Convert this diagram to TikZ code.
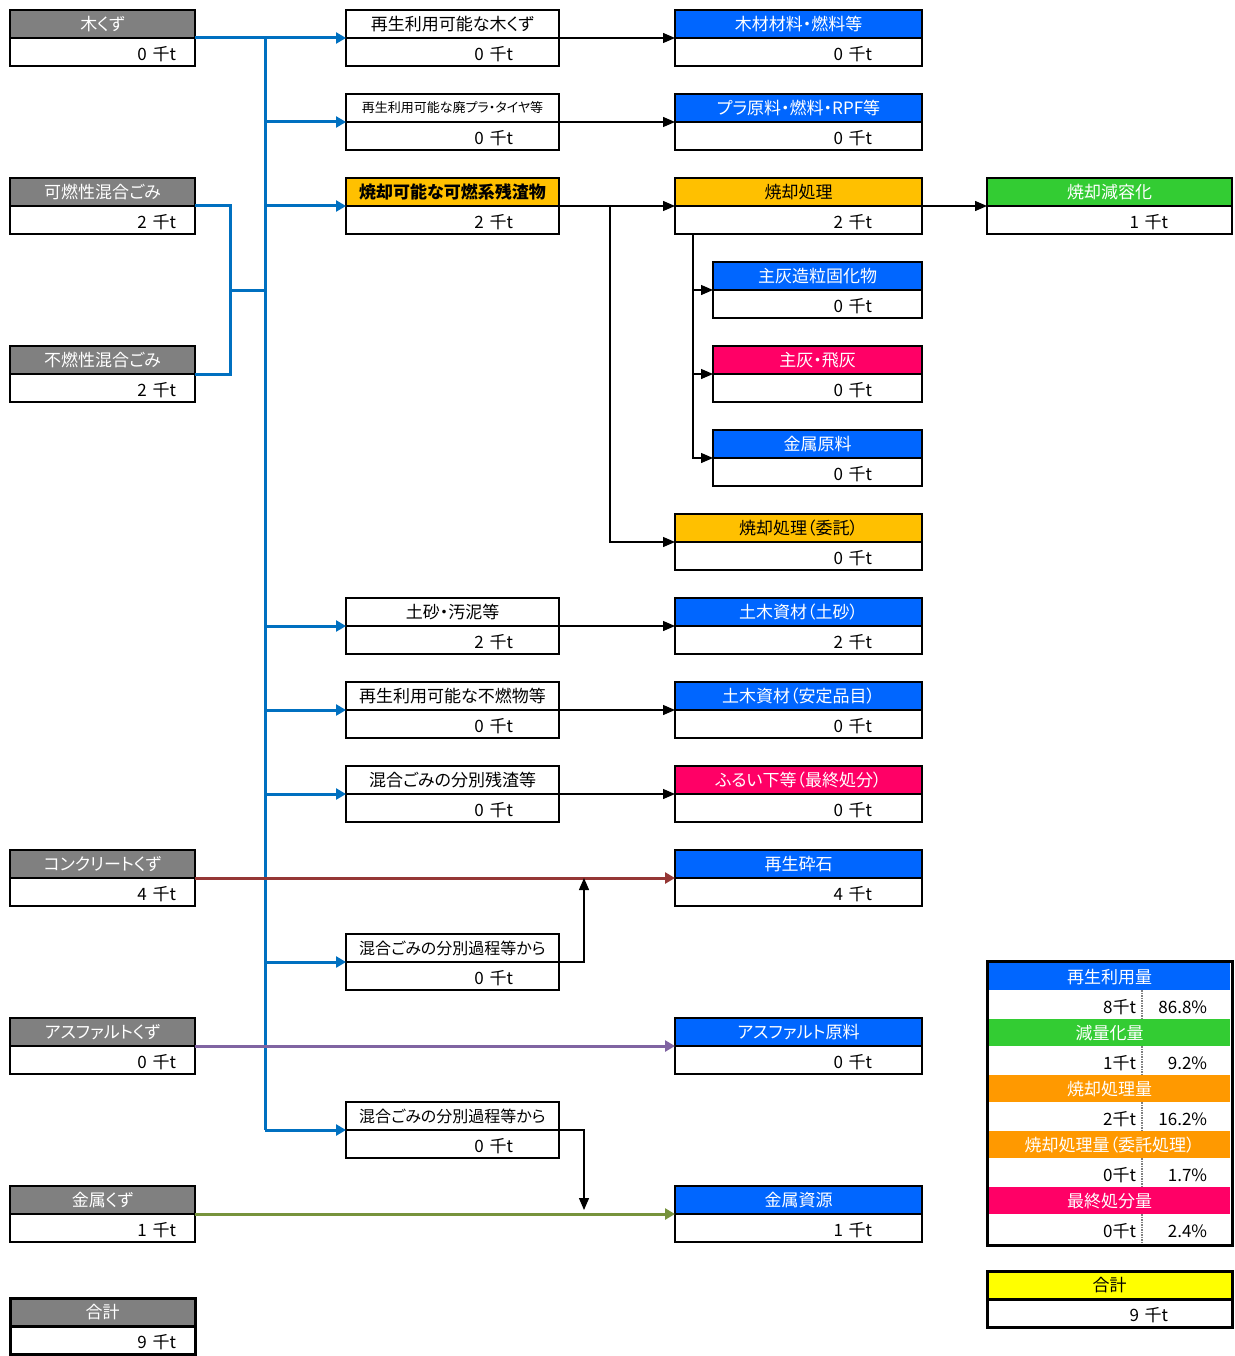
\documentclass[tikz,border=0pt]{standalone}
\usepackage{fontspec}
\setmainfont{Noto Sans CJK JP}[RawFeature=+palt]
\usetikzlibrary{arrows.meta,positioning,fit}
\definecolor{hdgray}{HTML}{808080}
\definecolor{hdblue}{HTML}{0066FF}
\definecolor{hdorange}{HTML}{FFC000}
\definecolor{hdgreen}{HTML}{33CC33}
\definecolor{hdpink}{HTML}{FF0066}
\definecolor{sumorange}{HTML}{FF9900}
\definecolor{sumyellow}{HTML}{FFFF00}
\definecolor{flowblue}{HTML}{0070C0}
\definecolor{flowred}{HTML}{953735}
\definecolor{flowpurple}{HTML}{8064A2}
\definecolor{flowgreen}{HTML}{77933C}

\begin{document}
\begin{tikzpicture}[x=1pt,y=-1pt,
  box/.style={draw,line width=2.5pt,inner sep=0pt,outer sep=0pt,minimum height=28pt,font=\fontsize{17pt}{20pt}\selectfont},
  hd/.style={box,anchor=north west,minimum width=#1},
  srcbox/.style={hd=185pt,fill=hdgray,text=white},
  midbox/.style={hd=213pt,fill=white},
  dstbox/.style={hd=247pt,text=white},
  subbox/.style={hd=209pt,text=white},
  farbox/.style={hd=245pt,text=white},
  val/.style={box,align=right,text height=17pt,text depth=0pt,below=0pt of #1},
  vsrc/.style={val=#1,text width=147pt,inner xsep=19pt},
  vmid/.style={val=#1,text width=121pt,inner xsep=46pt},
  vdst/.style={val=#1,text width=147pt,inner xsep=50pt},
  vsub/.style={val=#1,text width=109pt,inner xsep=50pt},
  vfar/.style={val=#1,text width=117pt,inner xsep=64pt},
  sumhd/.style={anchor=north west,inner sep=0pt,minimum width=241pt,minimum height=27pt,text=white,font=\fontsize{17pt}{20pt}\selectfont},
  sumamt/.style={anchor=north west,inner sep=0pt,inner xsep=6pt,text width=140.7pt,align=right,minimum height=29pt,text height=17pt,text depth=0pt,font=\fontsize{17pt}{20pt}\selectfont},
  sumpct/.style={sumamt,inner xsep=2pt,text width=84.3pt,execute at end node={\hspace*{21.5pt}}},
  sumdiv/.style={gray,densely dotted,line width=1.5pt},
  feed/.style={flowblue,line width=3pt},
  feedarr/.style={feed,-{Triangle[length=10pt,width=11pt]}},
  arr/.style={line width=1.3pt,-{Triangle[length=12pt,width=10pt]}},
  flow/.style={line width=3pt,-{Triangle[length=10pt,width=11pt]}}
]
\useasboundingbox (0,0) rectangle (1234,1356);

% sources
\node[srcbox] (mokuzu) at (10,10) {木くず};
\node[vsrc=mokuzu] (mokuzuv) {0 千t};
\node[srcbox] (kanen) at (10,178) {可燃性混合ごみ};
\node[vsrc=kanen] (kanenv) {2 千t};
\node[srcbox] (funen) at (10,346) {不燃性混合ごみ};
\node[vsrc=funen] (funenv) {2 千t};
\node[srcbox] (conc) at (10,850) {コンクリートくず};
\node[vsrc=conc] (concv) {4 千t};
\node[srcbox] (asph) at (10,1018) {アスファルトくず};
\node[vsrc=asph] (asphv) {0 千t};
\node[srcbox] (metal) at (10,1186) {金属くず};
\node[vsrc=metal] (metalv) {1 千t};
\node[srcbox,line width=3pt] (srctotal) at (10,1298) {合計};
\node[vsrc=srctotal,line width=3pt] (srctotalv) {9 千t};

% sorting
\node[midbox] (m1) at (346,10) {再生利用可能な木くず};
\node[vmid=m1] (m1v) {0 千t};
\node[midbox,font=\fontsize{13pt}{15pt}\selectfont] (m2) at (346,94) {再生利用可能な廃プラ・タイヤ等};
\node[vmid=m2] (m2v) {0 千t};
\node[midbox,fill=hdorange,font=\fontsize{17pt}{20pt}\selectfont\bfseries] (m3) at (346,178) {焼却可能な可燃系残渣物};
\node[vmid=m3] (m3v) {2 千t};
\node[midbox] (m4) at (346,598) {土砂・汚泥等};
\node[vmid=m4] (m4v) {2 千t};
\node[midbox] (m5) at (346,682) {再生利用可能な不燃物等};
\node[vmid=m5] (m5v) {0 千t};
\node[midbox] (m6) at (346,766) {混合ごみの分別残渣等};
\node[vmid=m6] (m6v) {0 千t};
\node[midbox,font=\fontsize{16pt}{19pt}\selectfont] (m7) at (346,934) {混合ごみの分別過程等から};
\node[vmid=m7] (m7v) {0 千t};
\node[midbox,font=\fontsize{16pt}{19pt}\selectfont] (m8) at (346,1102) {混合ごみの分別過程等から};
\node[vmid=m8] (m8v) {0 千t};

% destinations
\node[dstbox,fill=hdblue] (r1) at (675,10) {木材材料・燃料等};
\node[vdst=r1] (r1v) {0 千t};
\node[dstbox,fill=hdblue] (r2) at (675,94) {プラ原料・燃料・RPF等};
\node[vdst=r2] (r2v) {0 千t};
\node[dstbox,fill=hdorange,text=black] (r3) at (675,178) {焼却処理};
\node[vdst=r3] (r3v) {2 千t};
\node[dstbox,fill=hdorange,text=black] (r4) at (675,514) {焼却処理（委託）};
\node[vdst=r4] (r4v) {0 千t};
\node[dstbox,fill=hdblue] (r5) at (675,598) {土木資材（土砂）};
\node[vdst=r5] (r5v) {2 千t};
\node[dstbox,fill=hdblue] (r6) at (675,682) {土木資材（安定品目）};
\node[vdst=r6] (r6v) {0 千t};
\node[dstbox,fill=hdpink] (r7) at (675,766) {ふるい下等（最終処分）};
\node[vdst=r7] (r7v) {0 千t};
\node[dstbox,fill=hdblue] (r8) at (675,850) {再生砕石};
\node[vdst=r8] (r8v) {4 千t};
\node[dstbox,fill=hdblue] (r9) at (675,1018) {アスファルト原料};
\node[vdst=r9] (r9v) {0 千t};
\node[dstbox,fill=hdblue] (r10) at (675,1186) {金属資源};
\node[vdst=r10] (r10v) {1 千t};

% incineration residues
\node[subbox,fill=hdblue] (s1) at (713,262) {主灰造粒固化物};
\node[vsub=s1] (s1v) {0 千t};
\node[subbox,fill=hdpink] (s2) at (713,346) {主灰・飛灰};
\node[vsub=s2] (s2v) {0 千t};
\node[subbox,fill=hdblue] (s3) at (713,430) {金属原料};
\node[vsub=s3] (s3v) {0 千t};
\node[farbox,fill=hdgreen] (f1) at (987,178) {焼却減容化};
\node[vfar=f1] (f1v) {1 千t};

% summary
\foreach \i/\c/\lbl/\amt/\pct in {1/hdblue/再生利用量/8/86.8\%,2/hdgreen/減量化量/1/9.2\%,3/sumorange/焼却処理量/2/16.2\%,4/sumorange/焼却処理量（委託処理）/0/1.7\%,5/hdpink/最終処分量/0/2.4\%}{
  \node[sumhd,fill=\c] (sum\i) at (989,907+56*\i) {\lbl};
  \node[sumamt] (suma\i) at (sum\i.south west) {\amt 千t};
  \node[sumpct] (sump\i) at (suma\i.north east) {\pct};
  \draw[sumdiv] (suma\i.north east) -- (suma\i.south east);
}
\node[draw,line width=3.5pt,inner sep=1.75pt,fit=(sum1)(sump5)] (sumframe) {};
\node[farbox,fill=sumyellow,text=black,line width=3pt] (gokei) at (987,1271) {合計};
\node[vfar=gokei,line width=3pt] (gokeiv) {9 千t};

% blue feed lines
\coordinate (trunk) at (265,38);
\coordinate (mix) at (230,290);
\draw[feedarr] (mokuzu.south east) -- (m1.south west);
\draw[feed] (trunk) -- (trunk |- m8.south west);
\foreach \m in {m2,m3,m4,m5,m6,m7,m8}
  \draw[feedarr] (trunk |- \m.south west) -- (\m.south west);
\draw[feed] (kanen.south east) -| (mix) |- (funen.south east);
\draw[feed] (mix) -- (trunk |- mix);

% black arrows
\draw[arr] (m1.south east) -- (r1.south west);
\draw[arr] (m2.south east) -- (r2.south west);
\draw[arr] (m3.south east) -- (r3.south west);
\draw[arr] (m4.south east) -- (r5.south west);
\draw[arr] (m5.south east) -- (r6.south west);
\draw[arr] (m6.south east) -- (r7.south west);
\draw[arr] (r3.south east) -- (f1.south west);
\coordinate (split) at (610,206);
\draw[arr] (split) |- (r4.south west);
\draw[arr] ([xshift=18pt]r3v.south west) |- (s1.south west);
\draw[arr] ([xshift=18pt]r3v.south west) |- (s2.south west);
\draw[arr] ([xshift=18pt]r3v.south west) |- (s3.south west);

% coloured flows
\draw[flow,flowred] (conc.south east) -- (r8.south west);
\draw[flow,flowpurple] (asph.south east) -- (r9.south west);
\draw[flow,flowgreen] (metal.south east) -- (r10.south west);
\coordinate (up) at (584,878);
\coordinate (down) at (584,1210);
\draw[arr] (m7.south east) -| (up);
\draw[arr] (m8.south east) -| (down);
\end{tikzpicture}
\end{document}
